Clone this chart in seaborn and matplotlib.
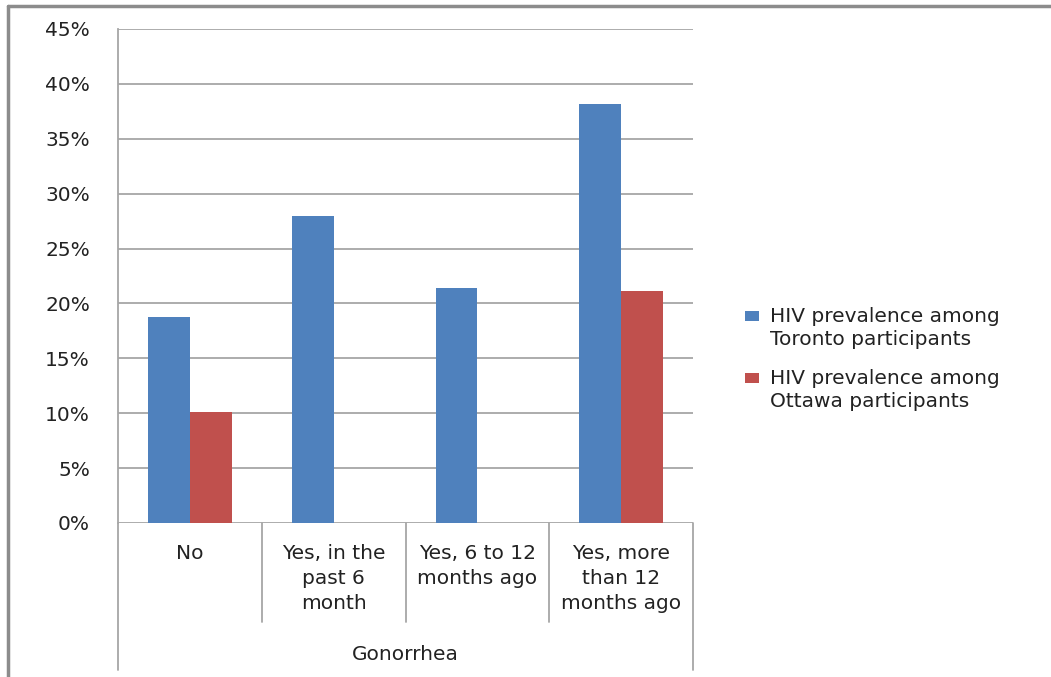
import matplotlib
matplotlib.use("Agg")
import matplotlib.pyplot as plt
import matplotlib.transforms as mtransforms
from matplotlib.patches import Rectangle
from matplotlib.lines import Line2D
import seaborn as sns
import pandas as pd

# Data
categories = ["No", "Yes, in the past 6 month", "Yes, 6 to 12 months ago",
              "Yes, more than 12 months ago"]
category_labels = ["No", "Yes, in the\npast 6\nmonth", "Yes, 6 to 12\nmonths ago",
                   "Yes, more\nthan 12\nmonths ago"]
group_label = "Gonorrhea"
series_names = ["HIV prevalence among\nToronto participants",
                "HIV prevalence among\nOttawa participants"]
toronto = [18.8, 28.0, 21.4, 38.2]
ottawa = [10.1, None, None, 21.1]
y_ticks = [0, 5, 10, 15, 20, 25, 30, 35, 40, 45]

colors = ["#4F81BD", "#C0504D"]
grid_color = "#A6A6A6"
text_color = "#222222"

rows = []
for cat, t, o in zip(categories, toronto, ottawa):
    rows.append({"category": cat, "series": series_names[0], "value": t})
    if o is not None:
        rows.append({"category": cat, "series": series_names[1], "value": o})
df = pd.DataFrame(rows)

sns.set_style("white")
plt.rcParams["font.family"] = ["DejaVu Sans"]

W, H = 1051, 677
fig = plt.figure(figsize=(W / 100, H / 100), dpi=100)
fig.patch.set_facecolor("white")

# plot area in pixel coordinates
x0, x1, ytop, ybot = 118, 693, 29, 523
ax = fig.add_axes([x0 / W, 1 - ybot / H, (x1 - x0) / W, (ybot - ytop) / H])

sns.barplot(data=df, x="category", y="value", hue="series",
            order=categories, hue_order=series_names, palette=colors,
            width=0.58, errorbar=None, legend=False, ax=ax,
            linewidth=0, saturation=1)

ax.set_xlim(-0.5, len(categories) - 0.5)
ax.set_ylim(0, 45)
ax.set_yticks(y_ticks)
ax.set_yticklabels([f"{v}%" for v in y_ticks], fontsize=14.5, color=text_color)
ax.tick_params(axis="y", length=7.2, width=1.2, color=grid_color, pad=13)
ax.set_xticks(range(len(categories)))
ax.set_xticklabels(category_labels, fontsize=14.5, color=text_color,
                   linespacing=1.42, va="top")
ax.tick_params(axis="x", length=0, pad=15)
ax.set_xlabel("")
ax.set_ylabel("")

ax.set_axisbelow(True)
ax.yaxis.grid(True, color=grid_color, linewidth=1.3)
ax.xaxis.grid(False)
for side in ["top", "right", "bottom"]:
    ax.spines[side].set_visible(False)
ax.spines["left"].set_color(grid_color)
ax.spines["left"].set_linewidth(1.3)

# category dividers below the axis
trans = mtransforms.blended_transform_factory(ax.transData, ax.transAxes)
inner_depth = -(622 - ybot) / (ybot - ytop)
outer_depth = -(670 - ybot) / (ybot - ytop)
n = len(categories)
for i in range(n + 1):
    xb = i - 0.5
    depth = outer_depth if i in (0, n) else inner_depth
    ax.add_line(Line2D([xb, xb], [0, depth], transform=trans, color=grid_color,
                       linewidth=1.3, clip_on=False))

ax.text((n - 1) / 2, -(655 - ybot) / (ybot - ytop), group_label, transform=trans,
        ha="center", va="center", fontsize=14.5, color=text_color)

# legend
legend_rows = [(316, 340), (378, 402)]
for (ya, yb), name, col in zip(legend_rows, series_names, colors):
    fig.patches.append(Rectangle((745 / W, 1 - (ya + 5) / H), 14 / W, 10 / H,
                                 transform=fig.transFigure, facecolor=col,
                                 edgecolor="none"))
    fig.text(770 / W, 1 - ((ya + yb) / 2) / H, name, ha="left", va="center",
             fontsize=14.5, linespacing=1.28, color=text_color)

# chart frame
fig.add_artist(Line2D([8 / W, 1], [1 - 6 / H, 1 - 6 / H], transform=fig.transFigure,
                      color="#8c8c8c", linewidth=2.5))
fig.add_artist(Line2D([8 / W, 8 / W], [0, 1 - 6 / H], transform=fig.transFigure,
                      color="#8c8c8c", linewidth=2.5))

fig.savefig("out.png", dpi=100)
